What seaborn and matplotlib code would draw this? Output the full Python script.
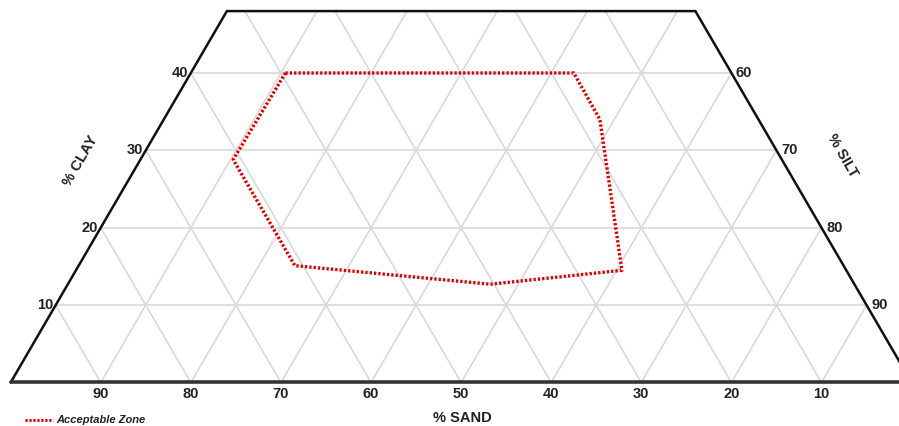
import numpy as np
import pandas as pd
import seaborn as sns
import matplotlib.pyplot as plt

# acceptable zone vertices, in percent
zone_sand = [49.5, 17.5, 17.6, 24.9, 40.4, 60.9, 60.9, 49.5]
zone_clay = [40.0, 40.0, 34.0, 14.5, 12.7, 15.1, 28.8, 40.0]
zone_silt = [100 - s - c for s, c in zip(zone_sand, zone_clay)]

grid_levels = [10, 20, 30, 40, 50, 60, 70, 80, 90]
clay_ticks = [10, 20, 30, 40]
silt_ticks = [60, 70, 80, 90]
sand_ticks = [90, 80, 70, 60, 50, 40, 30, 20, 10]
clay_max = 48

H = np.sqrt(3) / 2


def to_xy(sand, clay):
    sand = np.asarray(sand, dtype=float)
    clay = np.asarray(clay, dtype=float)
    return 100 - sand - clay / 2, clay * H


sns.set_style("white")
plt.rcParams['font.family'] = ['Liberation Sans', 'DejaVu Sans']

fig = plt.figure(figsize=(8.99, 4.26), dpi=100)
ax = fig.add_axes([0, 0, 1, 1])

grid_kw = dict(color='#d9d9d9', lw=1.2, zorder=1)
# horizontal clay lines
for c in clay_ticks:
    x0, y0 = to_xy(100 - c, c)
    x1, y1 = to_xy(0, c)
    ax.plot([x0, x1], [y0, y1], **grid_kw)
# constant sand lines
for s in grid_levels:
    cm = min(clay_max, 100 - s)
    xs, ys = to_xy([s, s], [0, cm])
    ax.plot(xs, ys, **grid_kw)
# constant silt lines
for t in grid_levels:
    cm = min(clay_max, 100 - t)
    xs, ys = to_xy([100 - t, 100 - t - cm], [0, cm])
    ax.plot(xs, ys, **grid_kw)

# outline
ox, oy = to_xy([100, 100 - clay_max, 0, 0], [0, clay_max, clay_max, 0])
ax.plot(ox, oy, color='#111111', lw=1.8, zorder=3, solid_joinstyle='miter')
bx, by = to_xy([100, 0], [0, 0])
ax.plot(bx, by, color='#333333', lw=2.6, zorder=3)

# zone
zx, zy = to_xy(zone_sand, zone_clay)
zone = pd.DataFrame({'x': zx, 'y': zy, 'silt': zone_silt})
sns.lineplot(data=zone, x='x', y='y', sort=False, estimator=None, ax=ax,
             color='#e00000', lw=2.4, linestyle=(0, (0.7, 0.6)), zorder=4)

lab_kw = dict(fontsize=10.5, fontweight='bold', color='#222222')
for s in sand_ticks:
    x, _ = to_xy(s, 0)
    ax.text(x, -1.25, str(s), ha='center', va='center', **lab_kw)
for c in clay_ticks:
    x, y = to_xy(100 - c, c)
    ax.text(x - 0.3, y, str(c), ha='right', va='center', **lab_kw)
for t in silt_ticks:
    c = 100 - t
    x, y = to_xy(0, c)
    ax.text(x + 0.5, y, str(t), ha='left', va='center', **lab_kw)

ax.text(7.7, 24.8, '% CLAY', rotation=60, ha='center', va='center', **lab_kw)
ax.text(92.3, 25.35, '% SILT', rotation=-60, ha='center', va='center', **lab_kw)
ax.text(50.1, -4.0, '% SAND', ha='center', va='center', **lab_kw)

# legend
ax.plot([1.6, 4.7], [-4.15, -4.15], color='#e00000', lw=2.2,
        linestyle=(0, (0.7, 0.6)))
ax.text(5.1, -4.15, 'Acceptable Zone', ha='left', va='center', fontsize=8,
        fontweight='bold', fontstyle='italic', color='#222222')

ax.set_xlim(-1.18, 98.6)
ax.set_ylim(-4.87, 42.81)
ax.axis('off')

fig.savefig('out.png', dpi=100)
